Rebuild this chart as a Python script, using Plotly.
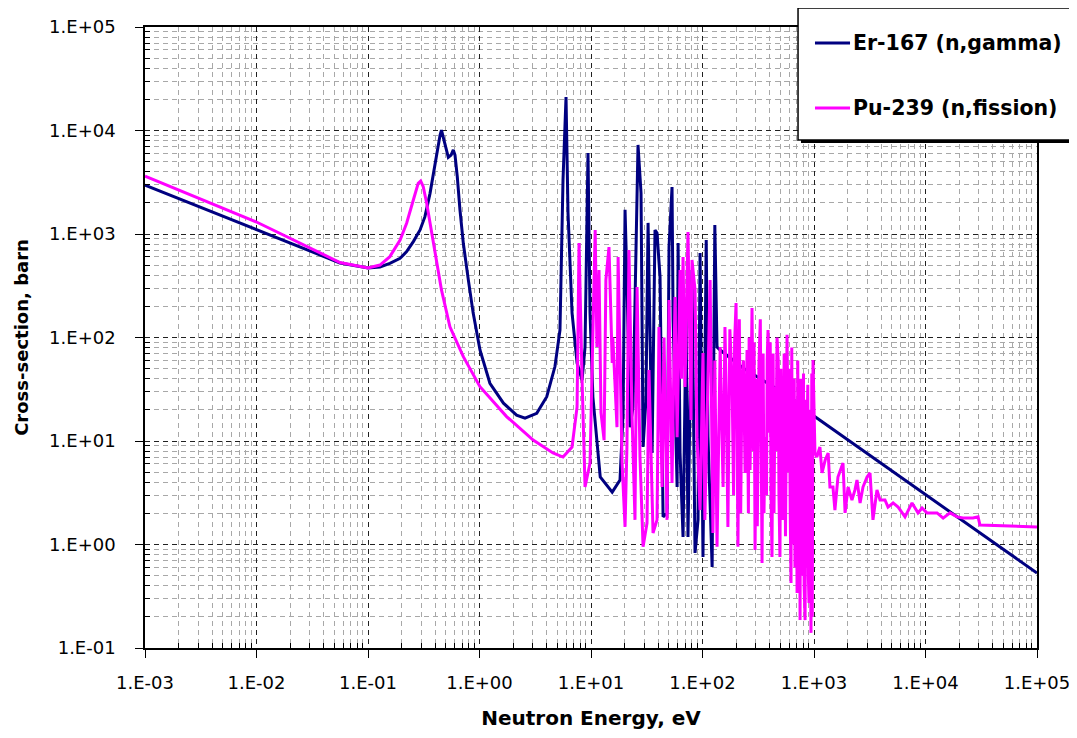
import plotly.graph_objects as go

# ---- data ----
er_energy = [0.001, 0.01, 0.0561, 0.1, 0.128, 0.157, 0.194, 0.222, 0.255, 0.293, 0.324, 0.360, 0.386,
             0.413, 0.443, 0.456, 0.473, 0.501, 0.525, 0.556, 0.582, 0.603, 0.632, 0.668, 0.716,
             0.794, 0.877, 1.01, 1.24, 1.64, 2.15, 2.56, 3.26, 4.01, 4.75, 5.27, 5.38, 5.61, 5.97,
             6.22, 6.76, 7.50, 8.32, 8.84, 9.40, 9.80, 10.4, 12.1, 15.5, 18.2, 19.4, 20.2, 21.0,
             22.4, 23.8, 26.4, 28.1, 29.3, 31.1, 32.5, 35.3, 37.5, 39.1, 41.6, 44.3, 48.1, 50.1,
             53.3, 54.5, 59.2, 60.4, 62.9, 66.9, 71.2, 74.1, 80.5, 85.7, 91.2, 95.1, 101, 108,
             112, 122, 129, 135, 144, 231, 379, 610, 1000, 9500, 1e5]
er_xs = [2970, 1100, 525, 469, 480, 521, 582, 675, 844, 1094, 1470, 2470, 3850,
         6000, 9050, 10100, 8700, 6490, 5510, 5800, 6490, 5800, 3580, 1710, 813,
         360, 173, 75.7, 36.1, 23.2, 17.8, 16.6, 18.5, 26.8, 52.4, 118, 360, 3330, 21100,
         1600, 173, 56.8, 38.8, 80.9, 6070, 173, 26.6, 4.49, 3.21, 4.20, 18.7, 1710, 360,
         13.6, 21.3, 7250, 2490, 8.75, 24.9, 1280, 7.66, 1094, 1020, 385, 1.85, 2.02, 748,
         2840, 148, 3.59, 818, 7.66, 1.18, 158, 1.18, 449, 0.83, 1.73, 655, 0.757, 875,
         10.9, 0.607, 1220, 80.9, 75.7, 50.7, 36.3, 26.6, 17.4, 3.15, 0.53]

pu_energy = [0.001, 0.01, 0.0561, 0.1, 0.128, 0.157, 0.194, 0.222, 0.255, 0.282, 0.297, 0.313, 0.336,
             0.372, 0.413, 0.456, 0.543, 0.716, 1.01, 1.75, 3.03, 4.56, 5.61, 6.76, 7.50, 7.81,
             8.32, 8.84, 9.80, 10.4, 10.9, 11.3, 11.8, 12.3, 13.1, 13.6, 14.5, 15.5, 15.7, 17.1,
             17.5, 19.0, 20.2, 21.0, 21.9, 23.3, 24.8, 25.9, 27.5, 29.3, 31.8, 33.1, 36.0, 39.1,
             40.7, 43.4, 45.2, 48.1, 50.1, 53.3, 56.7, 59.2, 62.9, 64.8, 66.9, 69.7, 74.1, 78.9,
             80.5, 85.7, 89.3, 95.1,
             101, 105, 110, 117, 124, 129, 135, 139, 144, 153, 159, 163, 169, 176, 184, 190,
             194, 200, 204, 208, 214, 220, 226, 233, 241, 246, 251, 258, 262, 267, 278, 286,
             290, 296, 305, 310, 321, 330, 335, 342, 350, 356, 364, 375, 380, 387, 395, 405,
             412, 420, 430, 438, 447, 456, 466, 478, 485, 495, 505, 515, 527, 540, 555, 573,
             590, 600, 612, 622, 632, 640, 649, 665, 675, 690, 705, 715, 728, 738, 750, 760,
             770, 781, 795, 805, 815, 832, 845, 855, 865, 880, 890, 902, 915, 925, 940, 955,
             965, 980,
             1020, 1060, 1130, 1180, 1260, 1340, 1390, 1480, 1540, 1640,
             1820, 1900, 2020, 2190, 2330, 2430, 2590, 2750, 2990, 3180, 3380, 3670, 3910,
             4330, 4610, 5120, 5680, 6550, 7570, 8570, 9310, 10300, 12700, 14400, 16600,
             19200, 21700, 26700, 29600, 30800, 1e5]
pu_xs = [3630, 1306, 530, 469, 501, 604, 875, 1270, 2130, 3090, 3250, 2870, 1980,
         1020, 521, 288, 127, 65.3, 33.5, 17.2, 10.2, 7.66, 7.0, 8.75, 21.3, 818,
         38.8, 3.59, 6.13, 173, 1094, 80.9, 449, 18.7, 10.2, 360, 748, 56.8, 100, 13.6,
         600, 6.13, 1.48, 8.75, 700, 18.7, 1.73, 308, 7.0, 0.95, 1.61, 48.5, 1.29, 1.73,
         126, 3.59, 100, 1.73, 230, 3.93, 246, 10.9, 449, 40, 600, 33.3, 1045, 16.0,
         561, 288, 10.9, 2.15,
         70.8, 1.73, 16.0, 360, 1.29, 60, 0.95, 5, 80.9, 3.59, 126, 30, 1.48, 120, 38.8, 3,
         90, 215, 20, 0.95, 150, 2, 38.8, 60, 4.91, 30, 75.7, 2, 100, 5.25, 193, 8,
         90, 0.885, 40, 1.5, 56.8, 150, 4, 0.662, 70, 2, 10.9, 3, 60, 118, 12, 90,
         3, 0.757, 70, 2, 33.3, 8, 100, 60, 3, 0.757, 50, 4, 1.73, 70, 1.2, 106,
         5, 50, 2, 0.425, 80, 1, 16.0, 40, 0.6, 25, 0.34, 60, 1, 35, 0.186, 40,
         0.5, 29.0, 3, 45, 0.4, 0.186, 25, 0.6, 11.9, 35, 0.5, 0.272, 20, 0.3, 0.14, 45,
         0.2, 60.7,
         7.66, 7.0, 8.75, 4.91, 6.55, 7.66, 3.59, 3.59, 2.15, 4.49,
         6.13, 2.02, 3.59, 2.69, 3.37, 4.20, 2.52, 3.59, 4.49, 4.91, 1.73, 3.37, 2.69,
         2.69, 2.30, 2.52, 2.30, 1.85, 2.52, 2.02, 2.25, 2.02, 2.02, 1.80, 2.02,
         1.85, 1.80, 1.80, 1.85, 1.54, 1.48]

series_names = ["Er-167 (n,gamma)", "Pu-239 (n,fission)"]
series_colors = ["#000080", "#FF00FF"]

x_tickvals = [1e-3, 1e-2, 1e-1, 1e0, 1e1, 1e2, 1e3, 1e4, 1e5]
x_ticktext = ["1.E-03", "1.E-02", "1.E-01", "1.E+00", "1.E+01", "1.E+02", "1.E+03", "1.E+04", "1.E+05"]
y_tickvals = [1e-1, 1e0, 1e1, 1e2, 1e3, 1e4, 1e5]
y_ticktext = ["1.E-01", "1.E+00", "1.E+01", "1.E+02", "1.E+03", "1.E+04", "1.E+05"]

assert len(er_energy) == len(er_xs), (len(er_energy), len(er_xs))
assert len(pu_energy) == len(pu_xs), (len(pu_energy), len(pu_xs))

x_minor = [k * 10.0 ** n for n in range(-3, 5) for k in range(2, 10)]
y_minor = [k * 10.0 ** n for n in range(-1, 5) for k in range(2, 10)]

FONT = "DejaVu Sans"

fig = go.Figure()
fig.add_trace(go.Scatter(x=er_energy, y=er_xs, mode="lines", name=series_names[0],
                         showlegend=False, line=dict(color=series_colors[0], width=3)))
fig.add_trace(go.Scatter(x=pu_energy, y=pu_xs, mode="lines", name=series_names[1],
                         showlegend=False, line=dict(color=series_colors[1], width=3)))

axis_common = dict(
    type="log", showline=True, linecolor="black", linewidth=1.5, mirror=True,
    ticks="outside", ticklen=8, tickcolor="black", automargin=False,
    showgrid=True, gridcolor="#202020", griddash="5px,4px", gridwidth=1,
    tickfont=dict(family=FONT, size=18, color="black"),
    zeroline=False,
)

fig.update_xaxes(
    **axis_common, range=[-3, 5], tickmode="array", tickvals=x_tickvals, ticktext=x_ticktext,
    ticklabelstandoff=10,
    minor=dict(tickmode="array", tickvals=x_minor, ticks="inside", ticklen=5, tickcolor="black",
               showgrid=True, gridcolor="#a8a8a8", griddash="5px,4px", gridwidth=1),
    title=dict(text="<b>Neutron Energy, eV</b>", font=dict(family=FONT, size=20, color="black"), standoff=27),
)
fig.update_yaxes(
    **axis_common, range=[-1, 5], tickmode="array", tickvals=y_tickvals, ticktext=y_ticktext,
    ticklabelstandoff=16,
    minor=dict(tickmode="array", tickvals=y_minor, ticks="inside", ticklen=5, tickcolor="black",
               showgrid=True, gridcolor="#a8a8a8", griddash="5px,4px", gridwidth=1),
    title=dict(text="<b>Cross-section, barn</b>", font=dict(family=FONT, size=18, color="black"), standoff=16),
)

# legend frame with shadow (extends past the right edge as in the reference)
fig.add_shape(type="rect", xref="paper", yref="paper", x0=0.7354, x1=1.2, y0=0.8132, y1=1.0258,
              fillcolor="black", line=dict(width=0), layer="above")
fig.add_shape(type="rect", xref="paper", yref="paper", x0=0.7321, x1=1.2, y0=0.8180, y1=1.0306,
              fillcolor="white", line=dict(color="black", width=1.5), layer="above")

# legend entries: line sample + label
legend_rows = [0.9742, 0.8695]
for name, color, ly in zip(series_names, series_colors, legend_rows):
    fig.add_shape(type="line", xref="paper", yref="paper", x0=0.7511, x1=0.7904, y0=ly, y1=ly,
                  line=dict(color=color, width=3), layer="above")
    fig.add_annotation(xref="paper", yref="paper", x=0.7915, y=ly, xanchor="left", yanchor="middle",
                       text="<b>%s</b>" % name, showarrow=False,
                       font=dict(family=FONT, size=20.5, color="black"))

# the page body adds an 8px offset; size the figure so nothing overflows the window
fig.update_layout(
    width=1069, height=722,
    margin=dict(l=137, r=40, t=19, b=82),
    paper_bgcolor="white", plot_bgcolor="white",
    font=dict(family=FONT, color="black"),
    showlegend=False,
)

fig.write_html("out.html")
